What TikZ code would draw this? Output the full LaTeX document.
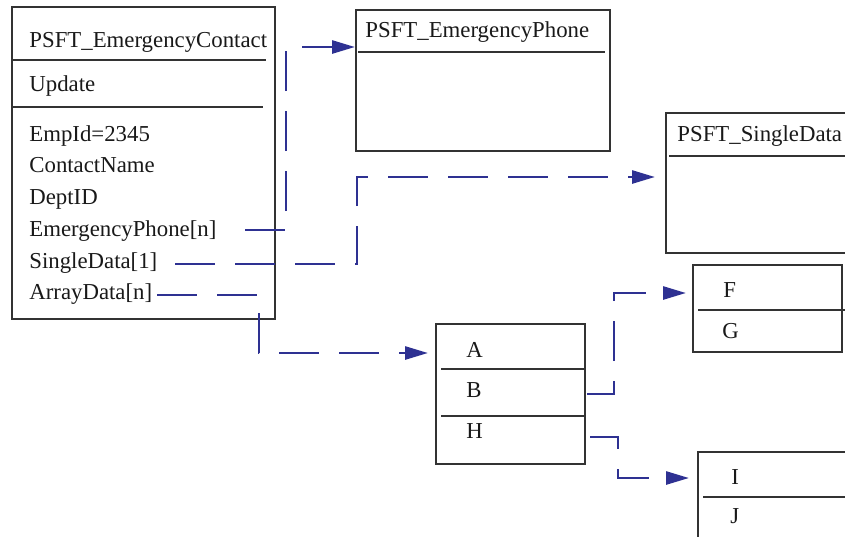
\documentclass[tikz,border=0pt]{standalone}
\usepackage{fontspec}
\setmainfont{Liberation Serif}
\usetikzlibrary{arrows.meta}
\definecolor{linkblue}{RGB}{46,49,146}
\tikzset{
    boxline/.style={draw=black!80, line width=0.65pt},
    field/.style={anchor=base west, inner sep=0pt, text=black!90, font=\fontsize{11.4}{13}\selectfont},
    link/.style={draw=linkblue, line width=1.35pt, dash pattern=on 20pt off 10pt,
      -{Triangle[length=11.5pt,width=6.5pt]}},
  }
\begin{document}
\begin{tikzpicture}[x=0.5pt,y=-0.5pt]
  \useasboundingbox (0,0) rectangle (845,536);

  %PSFT_EmergencyContact
  \draw[boxline] (12,7) rectangle (275,319);
  \draw[boxline] (12,60) -- (266,60);
  \draw[boxline] (12,107) -- (263,107);
  \node[field] (contact) at (29,47) {PSFT\_EmergencyContact};
  \node[field] (update) at (29,91) {Update};
  \node[field] (empid) at (29,141) {EmpId=2345};
  \node[field] (cname) at (29,172) {ContactName};
  \node[field] (dept) at (29,204) {DeptID};
  \node[field] (ephone) at (29,236) {EmergencyPhone[n]};
  \node[field] (single) at (29,268) {SingleData[1]};
  \node[field] (array) at (29,299) {ArrayData[n]};

  %PSFT_EmergencyPhone
  \draw[boxline] (356,10) rectangle (610,151);
  \draw[boxline] (358,52) -- (605,52);
  \node[field] (phonetitle) at (365,37) {PSFT\_EmergencyPhone};

  %PSFT_SingleData
  \draw[boxline] (666,113) rectangle (920,253);
  \draw[boxline] (669,156) -- (920,156);
  \node[field] (singletitle) at (677,141) {PSFT\_SingleData};

  %A,B,H
  \draw[boxline] (436,324) rectangle (585,464);
  \draw[boxline] (441,369) -- (586,369);
  \draw[boxline] (441,416) -- (585,416);
  \node[field] (fa) at (466,357) {A};
  \node[field] (fb) at (466,397) {B};
  \node[field] (fh) at (466,438) {H};

  %F,G
  \draw[boxline] (693,265) rectangle (842,352);
  \draw[boxline] (698,310) -- (846,310);
  \node[field] (ff) at (723,297) {F};
  \node[field] (fg) at (722,338) {G};

  %I,J
  \draw[boxline] (698,452) rectangle (850,545);
  \draw[boxline] (703,497) -- (850,497);
  \node[field] (fi) at (731,484) {I};
  \node[field] (fj) at (730,523) {J};

  %liens
  \coordinate (ephoneout) at (245,230);
  \coordinate (singleout) at (175,264);
  \coordinate (arrayout) at (157,295);
  \coordinate (bout) at (587,394);
  \coordinate (hout) at (590,437);
  \coordinate (phonein) at (355,47);
  \coordinate (singlein) at (655,177);
  \coordinate (abin) at (428,353);
  \coordinate (fin) at (686,293);
  \coordinate (iin) at (689,478);
  \draw[link] (ephoneout) -- ++(41,0) |- (phonein);
  \draw[link] (singleout) -- ++(182,0) |- (singlein);
  \draw[link] (arrayout) -- ++(102,0) |- (abin);
  \draw[link] (bout) -- ++(27,0) |- (fin);
  \draw[link] (hout) -- ++(28,0) |- (iin);
\end{tikzpicture}
\end{document}
